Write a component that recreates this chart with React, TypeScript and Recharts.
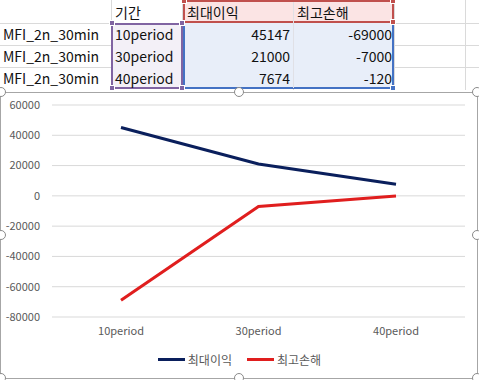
import { LineChart, Line, XAxis, YAxis, CartesianGrid, Legend } from 'recharts';

const periods = ['10period', '30period', '40period'];
const rowLabel = 'MFI_2n_30min';
const periodHeader = '기간';
const profitName = '최대이익';
const lossName = '최고손해';
const maxProfit = [45147, 21000, 7674];
const maxLoss = [-69000, -7000, -120];
const yTicks = [-80000, -60000, -40000, -20000, 0, 20000, 40000, 60000];

const data = periods.map((p, i) => ({ period: p, profit: maxProfit[i], loss: maxLoss[i] }));
const legendOrder = [profitName, lossName];

const FONT = '"Noto Sans CJK KR", "Noto Sans", sans-serif';
const NAVY = '#0a1f5c';
const RED = '#e01e1e';
const GRID = '#dadada';

// sheet geometry
const rowTops = [1, 23, 45, 67];
const ROW_H = 22;
const colLines = [111, 182, 293, 394, 465];

const cell = (x: number, y: number, w: number, text: string, align: 'left' | 'right', key: string) => (
  <div
    key={key}
    style={{
      position: 'absolute',
      left: x,
      top: y,
      width: w,
      height: ROW_H,
      lineHeight: ROW_H + 'px',
      fontSize: 14,
      textAlign: align,
      color: '#111',
      whiteSpace: 'nowrap',
    }}
  >
    {text}
  </div>
);

const handle = (x: number, y: number, color: string, key: string) => (
  <div
    key={key}
    style={{ position: 'absolute', left: x - 3, top: y - 3, width: 6, height: 6, background: color, border: '1px solid #fff', boxSizing: 'border-box' }}
  />
);

const circle = (x: number, y: number, key: string) => (
  <div
    key={key}
    style={{
      position: 'absolute',
      left: x - 5,
      top: y - 5,
      width: 10,
      height: 10,
      borderRadius: '50%',
      background: '#fff',
      border: '1.5px solid #8a8a8a',
      boxSizing: 'border-box',
    }}
  />
);

function LegendContent(props: any) {
  const items = [...(props.payload || [])].sort(
    (a: any, b: any) => legendOrder.indexOf(a.value) - legendOrder.indexOf(b.value)
  );
  return (
    <div style={{ display: 'flex', justifyContent: 'center', alignItems: 'center', fontFamily: FONT, fontSize: 12, color: '#595959' }}>
      {items.map((it: any, i: number) => (
        <div key={i} style={{ display: 'flex', alignItems: 'center', marginRight: i < items.length - 1 ? 15 : 0 }}>
          <div style={{ width: 27, height: 3, background: it.color, marginRight: 3 }} />
          <span>{it.value}</span>
        </div>
      ))}
    </div>
  );
}

export default function App() {
  return (
    <div style={{ position: 'absolute', left: 0, top: 0, width: 479, height: 380, overflow: 'hidden', background: '#fff', fontFamily: FONT }}>
      {/* sheet gridlines */}
      {rowTops.slice(1).map((y) => (
        <div key={'h' + y} style={{ position: 'absolute', left: 0, top: y, width: 479, height: 1, background: GRID }} />
      ))}
      {colLines.map((x) => (
        <div key={'v' + x} style={{ position: 'absolute', left: x, top: 0, width: 1, height: 90, background: GRID }} />
      ))}

      {/* highlighted ranges */}
      <div style={{ position: 'absolute', left: 183, top: 0, width: 211, height: 23, background: '#fbe4e4', border: '2px solid #c0504d', boxSizing: 'border-box' }} />
      <div style={{ position: 'absolute', left: 183, top: 23, width: 211, height: 66, background: '#e8eef9', border: '2px solid #4472c4', borderTop: 'none', boxSizing: 'border-box' }} />
      <div style={{ position: 'absolute', left: 293, top: 2, width: 1, height: 86, background: '#e0e0e6' }} />
      <div style={{ position: 'absolute', left: 111, top: 23, width: 72, height: 66, background: '#f3f0f7', border: '2px solid #8064a2', boxSizing: 'border-box' }} />
      {handle(112, 23, '#8064a2', 'p1')}
      {handle(182, 23, '#8064a2', 'p2')}
      {handle(112, 88, '#8064a2', 'p3')}
      {handle(182, 88, '#8064a2', 'p4')}
      {handle(184, 1, '#c0504d', 'r1')}
      {handle(393, 1, '#c0504d', 'r2')}
      {handle(393, 22, '#c0504d', 'r3')}
      {handle(393, 88, '#4472c4', 'b1')}

      {/* sheet text */}
      {cell(115, rowTops[0], 70, periodHeader, 'left', 'hp')}
      {cell(187, rowTops[0], 100, profitName, 'left', 'h1')}
      {cell(297, rowTops[0], 100, lossName, 'left', 'h2')}
      {periods.map((p, i) => [
        cell(3, rowTops[i + 1], 108, rowLabel, 'left', 'a' + i),
        cell(115, rowTops[i + 1], 68, p, 'left', 'b' + i),
        cell(185, rowTops[i + 1], 105, String(maxProfit[i]), 'right', 'c' + i),
        cell(295, rowTops[i + 1], 97, String(maxLoss[i]), 'right', 'd' + i),
      ])}

      {/* chart frame */}
      <div style={{ position: 'absolute', left: 0, top: 92, width: 478, height: 287, border: '1px solid #a6a6a6', boxSizing: 'border-box', background: '#fff' }} />
      <div style={{ position: 'absolute', left: 0, top: 92 }}>
        <LineChart width={479} height={288} data={data} margin={{ top: 13, right: 14, left: 0, bottom: 33 }}>
          <CartesianGrid vertical={false} stroke="#d9d9d9" strokeWidth={1} />
          <XAxis
            dataKey="period"
            height={30}
            padding={{ left: 69, right: 69 }}
            axisLine={false}
            tickLine={false}
            tick={{ fill: '#595959', fontSize: 11, fontFamily: FONT }}
            tickMargin={4}
          />
          <YAxis
            width={52}
            domain={[-80000, 60000]}
            ticks={yTicks}
            axisLine={false}
            tickLine={false}
            tick={{ fill: '#595959', fontSize: 11, fontFamily: FONT }}
            tickMargin={6}
          />
          <Legend verticalAlign="middle" align="center" wrapperStyle={{ left: 0, top: 259, width: 479 }} content={<LegendContent />} />
          <Line dataKey="profit" name={profitName} stroke={NAVY} strokeWidth={3} dot={false} isAnimationActive={false} />
          <Line dataKey="loss" name={lossName} stroke={RED} strokeWidth={3} dot={false} isAnimationActive={false} />
        </LineChart>
      </div>

      {circle(1, 92, 'c1')}
      {circle(239, 92, 'c2')}
      {circle(477, 92, 'c3')}
      {circle(1, 235, 'c4')}
      {circle(477, 235, 'c5')}
      {circle(1, 378, 'c6')}
      {circle(239, 378, 'c7')}
      {circle(477, 378, 'c8')}
    </div>
  );
}
